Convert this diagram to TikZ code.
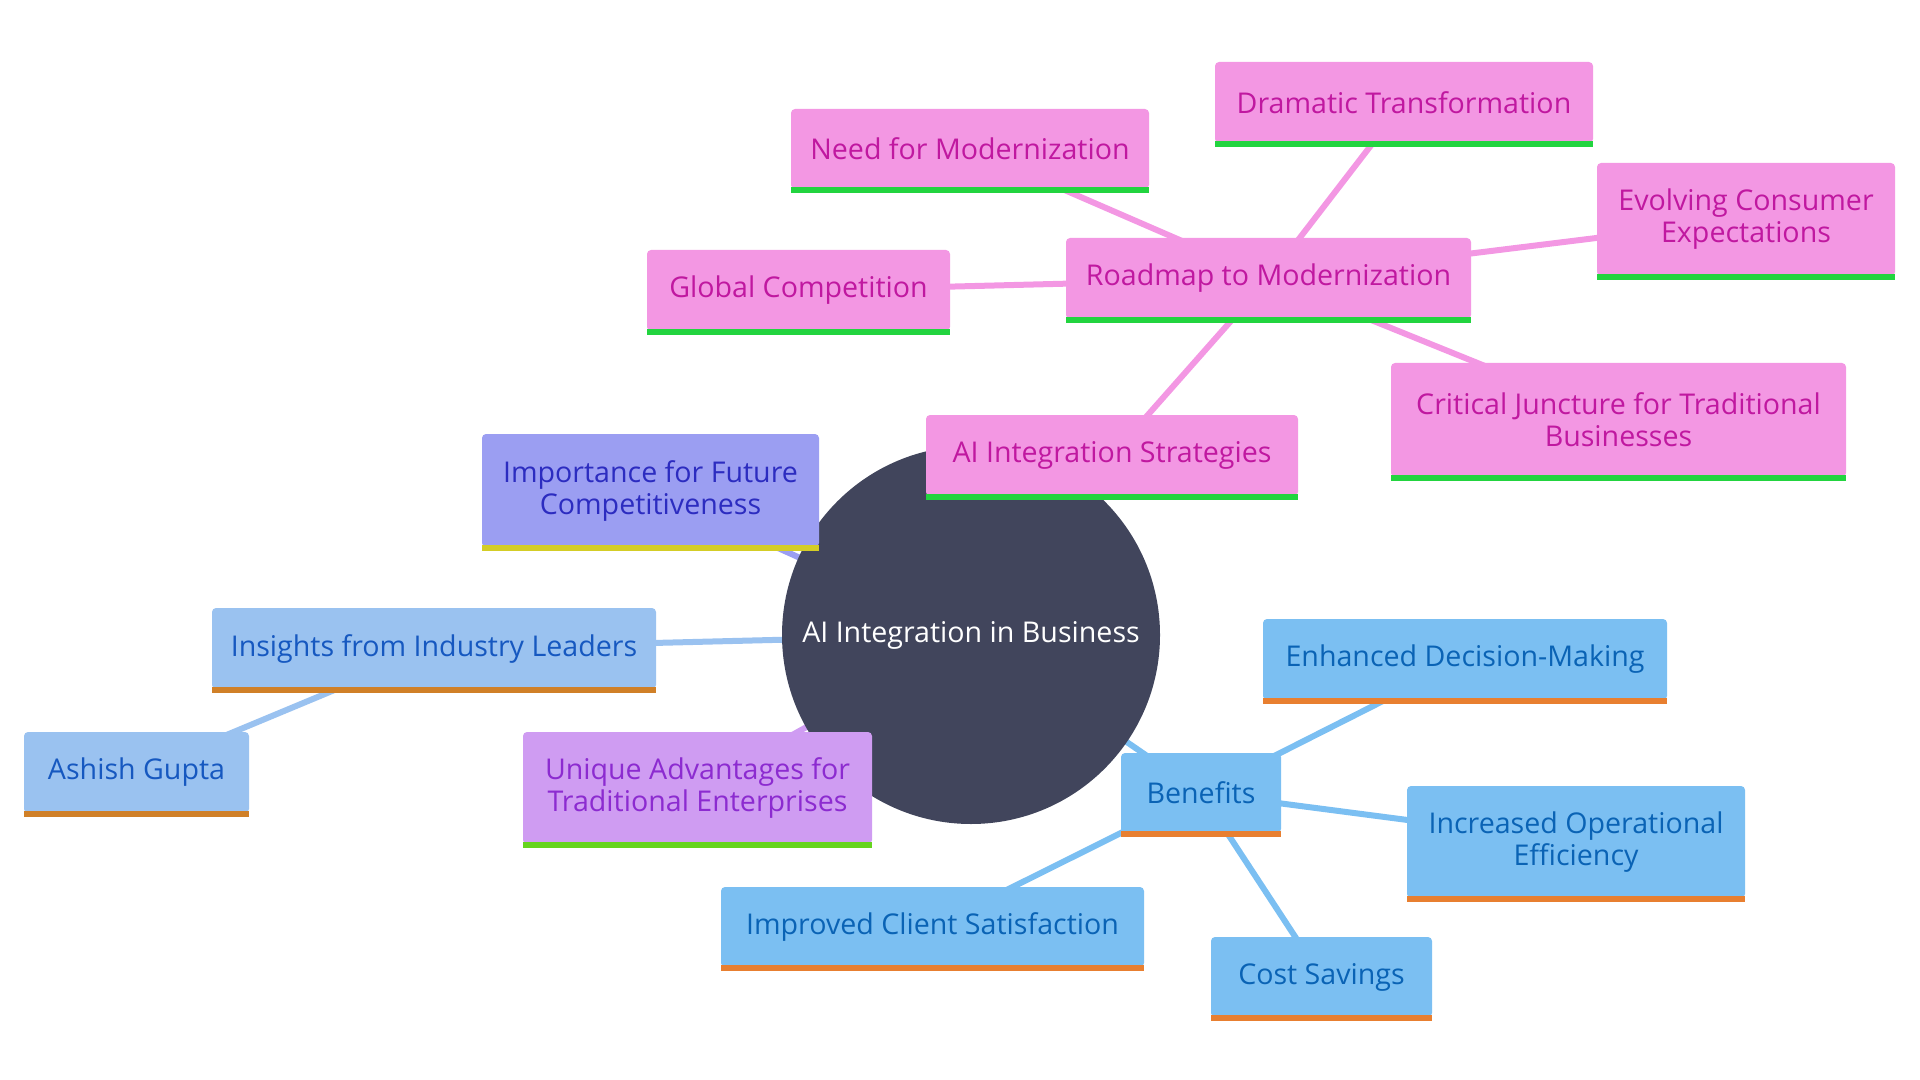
\documentclass[tikz,border=0pt]{standalone}
\usepackage{fontspec}
\setmainfont{Open Sans}
\usetikzlibrary{backgrounds}
\definecolor{darkc}{RGB}{65,69,92}
\definecolor{pinkf}{RGB}{243,151,227}
\definecolor{pinkt}{RGB}{192,24,160}
\definecolor{greenb}{RGB}{34,212,63}
\definecolor{violf}{RGB}{155,158,242}
\definecolor{violt}{RGB}{44,44,192}
\definecolor{yellb}{RGB}{212,205,38}
\definecolor{lbluef}{RGB}{154,194,240}
\definecolor{lbluet}{RGB}{22,88,192}
\definecolor{orangeb}{RGB}{208,128,40}
\definecolor{purpf}{RGB}{207,156,242}
\definecolor{purpt}{RGB}{140,43,208}
\definecolor{limeb}{RGB}{102,212,30}
\definecolor{bluef}{RGB}{123,191,242}
\definecolor{bluet}{RGB}{10,99,181}
\definecolor{orange2}{RGB}{232,127,48}
\tikzset{
  box/.style={rectangle, rounded corners=2pt, inner sep=0pt, align=center,
    font=\fontsize{14.3pt}{16pt}\selectfont},
  edge/.style={line width=3pt},
}
\newcommand\bnode[9]{%
  \node[box,fill=#6,text=#7,minimum width={(#4-#2)*0.5pt},minimum height={(#5-#3-4)*0.5pt}] (#1) at ({(#2+#4)/2},{(#3+#5)/2-2}) {#9};
  \fill[#8] (#2,#5-6) rectangle (#4,#5);}
\begin{document}
\begin{tikzpicture}[x=0.5pt,y=-0.5pt]
\useasboundingbox (0,0) rectangle (1920,1080);
\node[circle, fill=darkc, minimum size=189pt, inner sep=0pt, text=white,
  font=\fontsize{14.3pt}{16pt}\selectfont] (circ) at (971,635) {AI Integration in Business};
\bnode{strat}{926}{415}{1298}{500}{pinkf}{pinkt}{greenb}{AI Integration Strategies}
\bnode{road}{1066}{238}{1471}{323}{pinkf}{pinkt}{greenb}{Roadmap to Modernization}
\bnode{glob}{647}{250}{950}{335}{pinkf}{pinkt}{greenb}{Global Competition}
\bnode{need}{791}{109}{1149}{193}{pinkf}{pinkt}{greenb}{Need for Modernization}
\bnode{dram}{1215}{62}{1593}{147}{pinkf}{pinkt}{greenb}{Dramatic Transformation}
\bnode{evol}{1597}{163}{1895}{280}{pinkf}{pinkt}{greenb}{Evolving Consumer\\Expectations}
\bnode{crit}{1391}{363}{1846}{481}{pinkf}{pinkt}{greenb}{Critical Juncture for Traditional\\Businesses}
\bnode{impo}{482}{434}{819}{551}{violf}{violt}{yellb}{Importance for Future\\Competitiveness}
\bnode{insi}{212}{608}{656}{693}{lbluef}{lbluet}{orangeb}{Insights from Industry Leaders}
\bnode{ashi}{24}{732}{249}{817}{lbluef}{lbluet}{orangeb}{Ashish Gupta}
\bnode{uniq}{523}{732}{872}{848}{purpf}{purpt}{limeb}{Unique Advantages for\\Traditional Enterprises}
\bnode{bene}{1121}{753}{1281}{837}{bluef}{bluet}{orange2}{Benefits}
\bnode{enha}{1263}{619}{1667}{704}{bluef}{bluet}{orange2}{Enhanced Decision-Making}
\bnode{incr}{1407}{786}{1745}{902}{bluef}{bluet}{orange2}{Increased Operational\\Efficiency}
\bnode{impr}{721}{887}{1144}{971}{bluef}{bluet}{orange2}{Improved Client Satisfaction}
\bnode{cost}{1211}{937}{1432}{1021}{bluef}{bluet}{orange2}{Cost Savings}
\begin{scope}[on background layer]
\draw[edge,pinkf] (circ.center) -- (strat.center);
\draw[edge,pinkf] (strat.center) -- (road.center);
\draw[edge,pinkf] (road.center) -- (glob.center);
\draw[edge,pinkf] (road.center) -- (need.center);
\draw[edge,pinkf] (road.center) -- (dram.center);
\draw[edge,pinkf] (road.center) -- (evol.center);
\draw[edge,pinkf] (road.center) -- (crit.center);
\draw[edge,violf] (circ.center) -- (impo.center);
\draw[edge,lbluef] (circ.center) -- (insi.center);
\draw[edge,lbluef] (insi.center) -- (ashi.center);
\draw[edge,purpf] (circ.center) -- (uniq.center);
\draw[edge,bluef] (circ.center) -- (bene.center);
\draw[edge,bluef] (bene.center) -- (enha.center);
\draw[edge,bluef] (bene.center) -- (incr.center);
\draw[edge,bluef] (bene.center) -- (impr.center);
\draw[edge,bluef] (bene.center) -- (cost.center);
\end{scope}
\end{tikzpicture}
\end{document}
